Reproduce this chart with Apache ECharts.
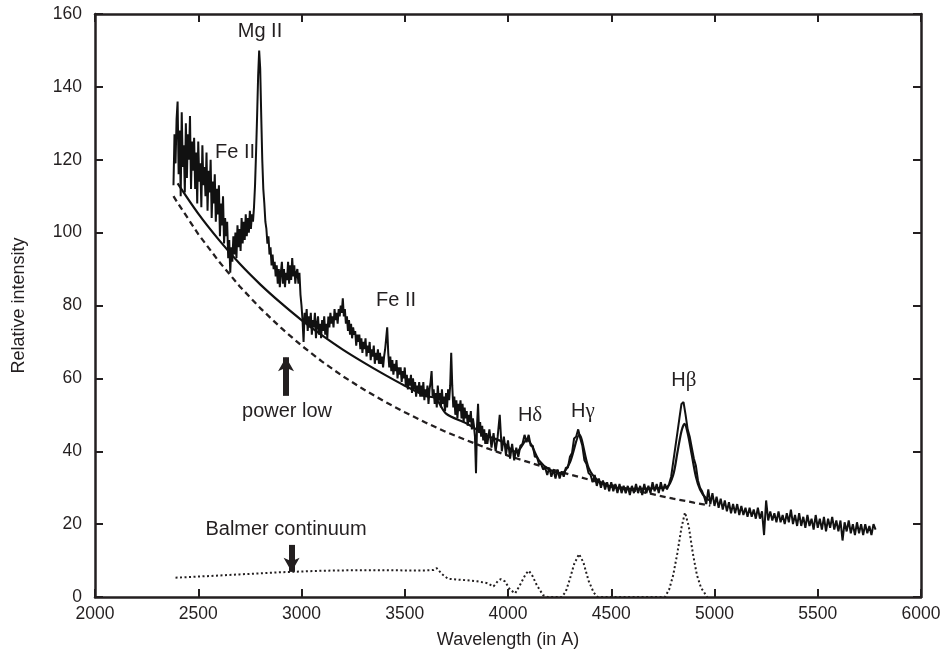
<!DOCTYPE html>
<html>
<head>
<meta charset="utf-8">
<script src="https://cdn.jsdelivr.net/npm/echarts@6/dist/echarts.min.js"></script>
<style>
html,body{margin:0;padding:0;background:#fff;}
#chart{width:945px;height:660px;}
</style>
</head>
<body>
<div id="chart"></div>
<script>
// ---- Data ----
// Observed spectrum, blue part sampled every 5 A from 2380 A
const blueStart = 2380;
const blueStep = 5;
const specBlue = [
  113, 127, 119, 131, 136, 116, 128, 110, 133, 118, 124, 111, 130, 115, 127, 120, 132, 112, 125, 117,
  126, 112, 122, 108, 125, 114, 119, 107, 124, 113, 118, 110, 122, 106, 117, 111, 120, 104, 114, 108,
  116, 103, 112, 105, 113, 99, 108, 102, 110, 97, 104, 99, 103, 93, 98, 89, 96, 92, 99, 94,
  100, 93, 102, 96, 101, 95, 104, 97, 103, 98, 105, 99, 104, 100, 106, 101, 105, 103, 107, 113,
  122, 132, 143, 150, 145, 132, 120, 112, 108, 103, 101, 97, 99, 94, 96, 91, 94, 90, 92, 88,
  91, 86, 90, 85, 89, 92, 86, 90, 85, 89, 87, 92, 86, 91, 87, 93, 88, 91, 86, 89,
  90, 86, 89, 83, 80, 76, 70, 78, 75, 79, 73, 77, 74, 78, 72, 76, 74, 78, 71, 75,
  77, 72, 75, 71, 76, 73, 77, 72, 75, 71, 77, 74, 78, 75, 77, 74, 79, 76, 78, 75,
  79, 77, 80, 78, 82, 77, 79, 75, 77, 73, 76, 72, 75, 71, 74, 72, 73, 69, 72, 70,
  72, 68, 71, 67, 70, 68, 71, 66, 69, 67, 70, 65, 68, 66, 69, 64, 67, 65, 68, 64,
  67, 64, 66, 63, 66, 68, 71, 74, 67, 63, 66, 62, 65, 61, 64, 62, 65, 60, 63, 61,
  63, 59, 62, 60, 63, 58, 61, 57, 60, 58, 61, 56, 60, 57, 59, 55, 58, 56, 59, 55,
  58, 55, 59, 54, 57, 55, 58, 53, 57, 59, 62, 55, 57, 53, 56, 52, 58, 54, 56, 52,
  57, 53, 55, 51, 56, 52, 57, 54, 58, 67, 58, 52, 55, 50, 54, 49, 53, 51, 54, 49,
  53, 48, 52, 49, 51, 47, 50, 48, 51, 46, 49, 47, 44, 34, 47, 53, 45, 48, 44, 47,
  43, 46, 42, 45
];
// Red part sampled every 10 A from 3900 A
const redStart = 3900;
const redStep = 10;
const specRed = [
  42, 46, 41, 45, 40, 44, 50, 40, 44, 39,
  43, 38, 42, 37.5, 41, 38.5, 41.5, 42, 44.5, 42.5,
  44.5, 41.5, 41.5, 38.5, 38.5, 36.5, 36.5, 35, 35.5, 33.5,
  35.5, 33, 35, 32.5, 35, 32.5, 34.5, 33, 35.5, 35.5,
  38.5, 39.5, 43.5, 44, 46, 43.5, 41.5, 37.5, 36.5, 34,
  33.5, 31.5, 33.5, 30.5, 32.5, 30, 32, 29.5, 31.5, 29,
  31.5, 29, 31, 28.5, 31, 28.5, 30.5, 28.5, 30.5, 28,
  30.5, 28.5, 31, 28.5, 30.5, 28, 31, 28.5, 30.5, 28.5,
  31.5, 29, 31, 28.5, 31.5, 29, 31, 29.5, 31, 33,
  37, 41, 45, 49, 53, 53.5, 50, 46, 44, 41,
  38, 36, 32, 30, 29, 27.5, 25.5, 29.5, 25.5, 28.5,
  25, 27.5, 24.5, 27, 24, 26.5, 23.5, 26, 23, 25.5,
  23, 25.5, 22.5, 25, 22.5, 24.5, 22, 24.5, 22, 24,
  21.5, 24.5, 21.5, 23.5, 17, 26.5, 21, 23.5, 21, 23,
  20.5, 23.5, 20.5, 22.5, 20, 23, 20.5, 24, 20, 22.5,
  19.5, 23, 19.5, 22, 19, 22.5, 19.5, 21.5, 18.5, 22.5,
  19, 21.5, 18.5, 22, 18, 21.5, 19, 22, 18.5, 21,
  18, 21, 15.5, 20.5, 18, 21, 17.5, 20, 17, 20.5,
  17.5, 20, 17, 20, 17.5, 19.5, 17, 20, 18.5
];

// Power-law continuum (dashed)
const plLambda = [2380, 2400, 2500, 2600, 2700, 2800, 2900, 3000, 3100, 3200, 3300, 3400, 3500, 3600, 3700, 3800, 3900, 4000, 4100, 4200, 4300, 4400, 4500, 4600, 4700, 4800, 4900, 4980];
const plValues = [110, 108.2, 99.6, 92.1, 85.3, 79.3, 73.9, 69.0, 64.6, 60.6, 57.0, 53.7, 50.7, 47.9, 45.3, 43.0, 40.8, 38.8, 37.0, 35.2, 33.6, 32.1, 30.7, 29.4, 28.2, 27.0, 25.9, 25.1];

// Balmer continuum + Balmer lines (dotted)
const bcLambda = [2390, 2500, 2600, 2700, 2800, 2900, 3000, 3100, 3200, 3300, 3400, 3500, 3600, 3640, 3655, 3680, 3710, 3750, 3800, 3850, 3900, 3930, 3950, 3965, 3985, 4010, 4035, 4060, 4085, 4100, 4115, 4140, 4170, 4190, 4260, 4280, 4300, 4320, 4344, 4365, 4390, 4415, 4435, 4760, 4780, 4800, 4820, 4840, 4857, 4875, 4895, 4915, 4935, 4965];
const bcValues = [5.3, 5.6, 5.9, 6.2, 6.5, 6.8, 7.0, 7.2, 7.3, 7.35, 7.35, 7.3, 7.3, 7.4, 7.9, 6.3, 5.0, 4.8, 4.6, 4.3, 3.8, 2.9, 4.3, 4.9, 4.3, 2.0, 1.0, 3.5, 6.2, 7.2, 6.2, 3.2, 0.5, 0, 0, 1.5, 5, 9, 11.8, 9.5, 4.5, 1.2, 0, 0, 2, 6, 12, 19, 23.2, 19.5, 12, 6, 2.5, 0];

// Fitted model (solid smooth)
const modelLambda = [2400, 2500, 2600, 2700, 2800, 2900, 3000, 3100, 3200, 3300, 3400, 3500, 3600, 3650, 3700, 3800, 3900, 3965, 4040, 4092, 4150, 4200, 4260, 4300, 4345, 4390, 4435, 4500, 4600, 4700, 4770, 4800, 4820, 4840, 4855, 4870, 4890, 4910, 4930, 4960, 4980];
const modelValues = [113.5, 105.2, 98.0, 91.5, 85.8, 80.7, 76.0, 71.8, 67.9, 64.4, 61.1, 58.0, 55.2, 54.5, 50.3, 47.6, 44.2, 42.8, 39.8, 43.2, 37.5, 35.0, 34.0, 37.0, 44.5, 35.5, 32.0, 30.3, 29.7, 29.8, 30.2, 33.5, 39.5, 45.5, 47.5, 45.0, 39.0, 33.0, 29.5, 27.0, 26.5];

// Annotations (text, wavelength, intensity)
const noteTexts = ['Mg II', 'Fe II', 'Fe II', '{h|H}{g|δ}', '{h|H}{g|γ}', '{h|H}{g|β}', 'power low', 'Balmer continuum'];
const noteLambda = [2799, 2678, 3458, 4107, 4363, 4852, 2930, 2925];
const noteValues = [155.3, 122.1, 81.5, 49.9, 51.0, 59.3, 51.0, 18.4];

// Arrows [lambda, from, to]
const arrowPower = [2925, 55.2, 65.8];
const arrowBalmer = [2952, 14.3, 6.9];

// ---- Build ----
const INK = '#231f20';
const FONT = '"Liberation Sans", Arial, sans-serif';
const spec = specBlue.map((v, i) => [blueStart + i * blueStep, v])
  .concat(specRed.map((v, i) => [redStart + i * redStep, v]));
const pl = plLambda.map((x, i) => [x, plValues[i]]);
const bc = bcLambda.map((x, i) => [x, bcValues[i]]);
const model = modelLambda.map((x, i) => [x, modelValues[i]]);
const notes = noteTexts.map((t, i) => ({ value: [noteLambda[i], noteValues[i]], name: t }));

const axisCommon = {
  type: 'value',
  axisLine: { show: true, onZero: false, lineStyle: { color: INK, width: 2.5 } },
  axisTick: { show: true, inside: true, length: 8, lineStyle: { color: INK, width: 2 } },
  splitLine: { show: false },
  axisLabel: { color: INK, fontSize: 17.5, fontFamily: FONT, formatter: v => String(v) },
  nameTextStyle: { color: INK, fontSize: 18, fontFamily: FONT }
};

const chart = echarts.init(document.getElementById('chart'), null, { renderer: 'canvas' });
chart.setOption({
  animation: false,
  backgroundColor: '#fff',
  grid: { left: 95, right: 24, top: 14, bottom: 63, containLabel: false },
  xAxis: [
    Object.assign({}, axisCommon, {
      min: 2000, max: 6000, interval: 500, position: 'bottom',
      name: 'Wavelength (in A)', nameLocation: 'middle', nameGap: 34,
      axisLabel: Object.assign({}, axisCommon.axisLabel, { margin: 8 })
    }),
    Object.assign({}, axisCommon, {
      min: 2000, max: 6000, interval: 500, position: 'top',
      axisLabel: { show: false }
    })
  ],
  yAxis: [
    Object.assign({}, axisCommon, {
      min: 0, max: 160, interval: 20, position: 'left',
      name: 'Relative intensity', nameLocation: 'middle', nameGap: 67, nameRotate: 90,
      axisLabel: Object.assign({}, axisCommon.axisLabel, { margin: 13 })
    }),
    Object.assign({}, axisCommon, {
      min: 0, max: 160, interval: 20, position: 'right',
      axisLabel: { show: false }
    })
  ],
  series: [
    {
      type: 'line', data: bc, showSymbol: false, symbol: 'none',
      lineStyle: { color: INK, width: 2, type: [2, 2.5] }, z: 2
    },
    {
      type: 'line', data: pl, showSymbol: false, symbol: 'none',
      lineStyle: { color: INK, width: 2.3, type: [6, 4] }, z: 2,
      markLine: {
        silent: true, symbol: ['none', 'arrow'], symbolSize: [12, 14], animation: false,
        label: { show: false },
        lineStyle: { color: INK, width: 6, type: 'solid', opacity: 1 },
        data: [
          [{ coord: [arrowPower[0], arrowPower[1]] }, { coord: [arrowPower[0], arrowPower[2]] }],
          [{ coord: [arrowBalmer[0], arrowBalmer[1]] }, { coord: [arrowBalmer[0], arrowBalmer[2]] }]
        ]
      }
    },
    {
      type: 'line', data: spec, showSymbol: false, symbol: 'none', sampling: null,
      lineStyle: { color: '#111', width: 2 }, z: 3
    },
    {
      type: 'line', data: model, showSymbol: false, symbol: 'none', smooth: 0.3,
      lineStyle: { color: '#111', width: 2.2 }, z: 4
    },
    {
      type: 'scatter', data: notes, symbolSize: 1, z: 5,
      itemStyle: { color: 'rgba(0,0,0,0)', opacity: 1 },
      label: {
        show: true, position: 'inside', formatter: p => p.name, opacity: 1,
        color: INK, fontSize: 20, fontFamily: FONT,
        rich: {
          h: { fontSize: 20, fontFamily: FONT, color: INK },
          g: { fontSize: 21, fontFamily: '"Liberation Serif", serif', color: INK }
        }
      }
    }
  ]
});
</script>
</body>
</html>
